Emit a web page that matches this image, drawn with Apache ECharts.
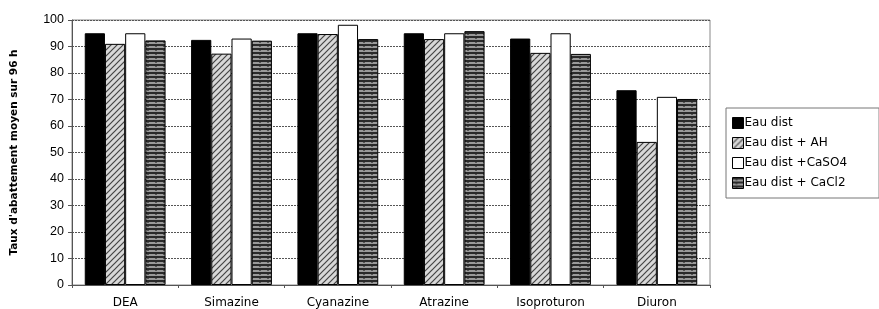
<!DOCTYPE html>
<html><head><meta charset="utf-8">
<script src="https://cdn.jsdelivr.net/npm/echarts@6/dist/echarts.min.js"></script>
<style>html,body{margin:0;padding:0;background:#fff}#c{width:879px;height:309px}</style>
</head><body><div id="c"></div>
<script>
const categories = ['DEA','Simazine','Cyanazine','Atrazine','Isoproturon','Diuron'];
const seriesNames = ['Eau dist','Eau dist + AH','Eau dist +CaSO4','Eau dist + CaCl2'];
const eauDist = [95, 92.5, 95, 95, 93, 73.5];
const eauDistAH = [91, 87.3, 94.7, 92.8, 87.6, 54];
const eauDistCaSO4 = [95, 93, 98.2, 95, 95, 71];
const eauDistCaCl2 = [92.3, 92.2, 92.8, 95.8, 87.2, 70.2];
const yTicks = {min: 0, max: 100, interval: 10};

function hatch(){
  const c=document.createElement('canvas');c.width=6;c.height=6;const g=c.getContext('2d');
  g.fillStyle='#d8d8d8';g.fillRect(0,0,6,6);
  g.strokeStyle='#444';g.lineWidth=1.2;
  g.beginPath();g.moveTo(-1,7);g.lineTo(7,-1);g.moveTo(-4,4);g.lineTo(4,-4);g.moveTo(2,10);g.lineTo(10,2);g.stroke();
  return c;
}
function stripes(){
  const c=document.createElement('canvas');c.width=8;c.height=4;const g=c.getContext('2d');
  g.fillStyle='#9a9a9a';g.fillRect(0,0,8,4);
  g.fillStyle='#2a2a2a';g.fillRect(0,0,8,2);
  g.fillStyle='#555';g.fillRect(3,2,2,1);
  return c;
}
const fills=['#000',{image:hatch(),repeat:'repeat'},'#fff',{image:stripes(),repeat:'repeat'}];
const data=[eauDist,eauDistAH,eauDistCaSO4,eauDistCaCl2];
const chart=echarts.init(document.getElementById('c'),null,{renderer:'canvas'});
chart.setOption({
  animation:false,
  textStyle:{fontFamily:'Liberation Sans, Arial, sans-serif',color:'#000'},
  grid:{left:72,right:169,top:20,bottom:24,show:true,borderColor:'#888',borderWidth:1},
  legend:{
    orient:'vertical',left:726,top:108,
    padding:[9,32,9,6],itemGap:8,itemWidth:11,itemHeight:11,icon:'rect',
    borderColor:'#777',borderWidth:1,backgroundColor:'#fff',
    textStyle:{fontSize:12,fontFamily:'DejaVu Sans',color:'#000',padding:[0,0,0,-4]},
    data:seriesNames.map((n,i)=>({name:n,itemStyle:{color:fills[i],borderColor:'#000',borderWidth:1}}))
  },
  xAxis:{type:'category',data:categories,
    axisLine:{lineStyle:{color:'#555'}},
    axisTick:{show:true,length:3,lineStyle:{color:'#555'}},
    axisLabel:{fontSize:12,fontFamily:'DejaVu Sans',color:'#000',margin:12}},
  yAxis:{type:'value',min:yTicks.min,max:yTicks.max,interval:yTicks.interval,
    name:"Taux d'abattement moyen sur 96 h",nameLocation:'middle',nameGap:52,nameRotate:90,
    nameTextStyle:{fontSize:10.5,fontFamily:'DejaVu Sans',fontWeight:'bold',color:'#000'},
    axisLine:{show:true,lineStyle:{color:'#555'}},
    axisTick:{show:true,length:4,lineStyle:{color:'#555'}},
    axisLabel:{fontSize:12.5,color:'#000',margin:8},
    splitLine:{lineStyle:{color:'#555',type:[2,1],width:1}}},
  series:seriesNames.map((n,i)=>({
    name:n,type:'bar',data:data[i],barGap:'0%',barCategoryGap:'24%',
    itemStyle:{color:fills[i],borderColor:'#000',borderWidth:1}
  }))
});
</script></body></html>
